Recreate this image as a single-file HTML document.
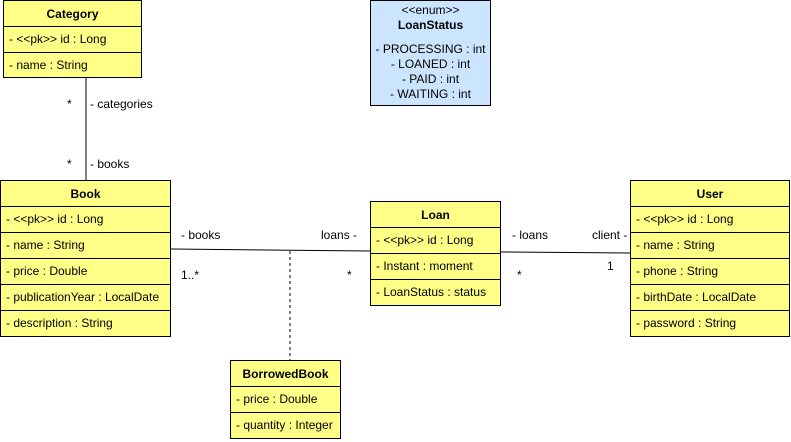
<!DOCTYPE html>
<html><head><meta charset="utf-8"><style>
body{margin:0;width:791px;height:442px;background:#fff;position:relative;font-family:"Liberation Sans",Arial,sans-serif;font-size:12px;overflow:hidden}
.b{position:absolute;background:#ffff88;border:1px solid #000;box-sizing:border-box}
.h{height:26px;line-height:26px;text-align:center;font-weight:bold;border-bottom:1px solid #000;box-sizing:border-box}
.r{height:26px;line-height:25px;padding-left:5px;border-bottom:1px solid #000;box-sizing:border-box;white-space:nowrap}
.r:last-child{border-bottom:none}
.t{position:absolute;white-space:nowrap;line-height:14px}
</style></head><body>
<svg width="791" height="442" style="position:absolute;left:0;top:0">
<line x1="86" y1="78" x2="86" y2="180" stroke="#000"/>
<line x1="171" y1="249" x2="370" y2="251" stroke="#000"/>
<line x1="501" y1="252" x2="630" y2="253" stroke="#000"/>
<line x1="290" y1="251" x2="290" y2="360" stroke="#000" stroke-dasharray="3,3"/>
</svg>
<div class="b" style="left:3px;top:0;width:139px;height:78px"><div class="h">Category</div><div class="r">- &lt;&lt;pk&gt;&gt; id : Long</div><div class="r">- name : String</div></div>
<div class="b" style="left:370px;top:0;width:121px;height:106px;background:#cce5ff;text-align:center;line-height:15px;padding-top:2px">&lt;&lt;enum&gt;&gt;<br><b>LoanStatus</b><div style="height:9px"></div>- PROCESSING : int<br>- LOANED : int<br>- PAID : int<br>- WAITING : int</div>
<div class="b" style="left:0;top:180px;width:171px;height:157px"><div class="h">Book</div><div class="r">- &lt;&lt;pk&gt;&gt; id : Long</div><div class="r">- name : String</div><div class="r">- price : Double</div><div class="r">- publicationYear : LocalDate</div><div class="r">- description : String</div></div>
<div class="b" style="left:370px;top:201px;width:131px;height:105px"><div class="h">Loan</div><div class="r">- &lt;&lt;pk&gt;&gt; id : Long</div><div class="r">- Instant : moment</div><div class="r">- LoanStatus : status</div></div>
<div class="b" style="left:630px;top:180px;width:160px;height:157px"><div class="h">User</div><div class="r">- &lt;&lt;pk&gt;&gt; id : Long</div><div class="r">- name : String</div><div class="r">- phone : String</div><div class="r">- birthDate : LocalDate</div><div class="r">- password : String</div></div>
<div class="b" style="left:230px;top:360px;width:111px;height:79px"><div class="h">BorrowedBook</div><div class="r">- price : Double</div><div class="r">- quantity : Integer</div></div>
<div class="t" style="left:67px;top:97px">*</div>
<div class="t" style="left:90px;top:97px">- categories</div>
<div class="t" style="left:67px;top:157px">*</div>
<div class="t" style="left:90px;top:157px">- books</div>
<div class="t" style="left:181px;top:228px">- books</div>
<div class="t" style="left:321px;top:228px">loans -</div>
<div class="t" style="left:181px;top:268px">1..*</div>
<div class="t" style="left:347px;top:268px">*</div>
<div class="t" style="left:512px;top:228px">- loans</div>
<div class="t" style="left:592px;top:228px">client -</div>
<div class="t" style="left:517px;top:268px">*</div>
<div class="t" style="left:607px;top:259px">1</div>
</body></html>
